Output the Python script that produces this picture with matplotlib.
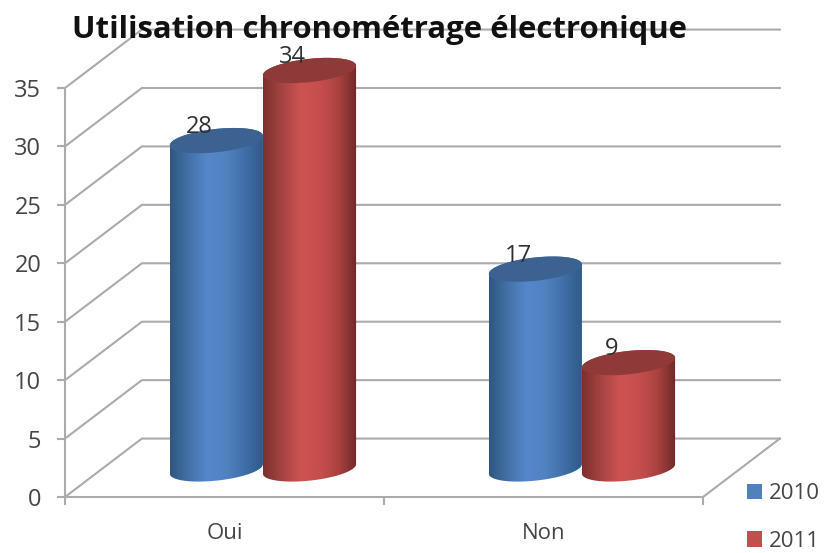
import numpy as np
import matplotlib
matplotlib.use("Agg")
import matplotlib.pyplot as plt
from matplotlib.colors import LinearSegmentedColormap
from matplotlib.patches import Patch, Polygon

plt.rcParams['font.family'] = ['Open Sans', 'DejaVu Sans']

# data
categories = ["Oui", "Non"]
years = ["2010", "2011"]
values_2010 = [28, 17]
values_2011 = [34, 9]
y_ticks = [0, 5, 10, 15, 20, 25, 30, 35]

# style
GRID = "#ababab"
TEXT = "#454545"
BAR_COLORS = ["#4f81bd", "#c0504d"]
TOP_COLORS = ["#3b6291", "#8f3a38"]
SIDE_COLORS = [
    ["#2f5780", "#4371a8", "#5587cb", "#5182c2", "#3f6fa6", "#2f5a88"],
    ["#7d302e", "#a54442", "#cc5351", "#c64f4d", "#ab4341", "#6f2928"],
]

# fake 3d depth of the chart box, in axis units
DEPTH_X = 0.241
DEPTH_Y = 5
BAR_OFFSET = 0.146
RADIUS_X = 0.146
RADIUS_Y = 1.0
SHEAR = 2.8


def ellipse_points(cx, cy, t):
    x = cx + RADIUS_X * np.cos(t)
    y = cy + RADIUS_Y * np.sin(t) + SHEAR * RADIUS_X * np.cos(t)
    return np.column_stack([x, y])


def draw_cylinder(ax, fig, cx, value, series, zorder):
    top = value + DEPTH_Y / 2
    bottom = DEPTH_Y / 2 - 0.1

    # side: upper half of the top rim is covered by the cap anyway
    upper = ellipse_points(cx, top, np.linspace(0, np.pi, 60))
    lower = ellipse_points(cx, bottom, np.linspace(np.pi, 2 * np.pi, 60))
    outline = Polygon(np.vstack([upper, lower]), closed=True, transform=ax.transData,
                      facecolor="none", edgecolor="none", clip_on=False)
    ax.add_patch(outline)

    cmap = LinearSegmentedColormap.from_list("side", SIDE_COLORS[series])
    gradient = np.linspace(0, 1, 200).reshape(1, -1)
    img = ax.imshow(gradient, cmap=cmap, aspect="auto", interpolation="bilinear",
                    extent=(cx - RADIUS_X, cx + RADIUS_X, bottom - 2, top + 2), zorder=zorder)
    # the tallest bar pokes out above the axes box
    img.set_clip_box(fig.bbox)
    img.set_clip_path(outline)

    cap = ellipse_points(cx, top, np.linspace(0, 2 * np.pi, 120))
    ax.add_patch(Polygon(cap, closed=True, facecolor=TOP_COLORS[series], edgecolor="none",
                         zorder=zorder + 0.1, clip_on=False))

    ax.annotate(str(value), (cx, top), xytext=(-12, 9.5), textcoords="offset points",
                ha="center", va="center", fontsize=17, color="#303030", zorder=10,
                annotation_clip=False)


def main():
    fig = plt.figure(figsize=(8.25, 5.53), dpi=100)
    ax = fig.add_axes([65 / 825, 1 - 497 / 553, 638 / 825, 409 / 553])
    ax.patch.set_visible(False)

    # walls: depth lines and back gridlines
    n_cat = len(categories)
    for tick in y_ticks:
        ax.plot([0, DEPTH_X, n_cat + DEPTH_X], [tick, tick + DEPTH_Y, tick + DEPTH_Y],
                color=GRID, lw=1.5, clip_on=False, zorder=1)
    ax.plot([n_cat, n_cat + DEPTH_X], [0, DEPTH_Y], color=GRID, lw=1.5, clip_on=False, zorder=1)

    series = [values_2010, values_2011]
    for c in range(n_cat):
        for s, values in enumerate(series):
            cx = c + 0.5 + (s - 0.5) * 2 * BAR_OFFSET + DEPTH_X / 2
            draw_cylinder(ax, fig, cx, values[c], s, zorder=3 + s)

    ax.set_xlim(0, n_cat)
    ax.set_ylim(0, 35)
    ax.set_yticks(y_ticks)
    ax.set_xticks(range(n_cat + 1))
    ax.set_xticklabels([])
    ax.set_xticks([c + 0.5 for c in range(n_cat)], minor=True)
    ax.set_xticklabels(categories, minor=True)
    ax.tick_params(axis="both", which="major", color=GRID, width=1.5, length=6,
                   labelsize=17, labelcolor=TEXT)
    ax.tick_params(axis="x", which="minor", length=0, pad=18.5, labelsize=16, labelcolor=TEXT)
    ax.tick_params(axis="y", pad=11)

    for side in ["top", "right"]:
        ax.spines[side].set_visible(False)
    for side in ["left", "bottom"]:
        ax.spines[side].set_color(GRID)
        ax.spines[side].set_linewidth(1.5)

    fig.text(379 / 825, 1 - 38 / 553, "Utilisation chronométrage électronique",
             ha="center", va="baseline", fontsize=22.4, fontweight="bold", color="#111111")

    handles = [Patch(facecolor=c, edgecolor="none") for c in BAR_COLORS]
    fig.legend(handles, years, loc="upper left", bbox_to_anchor=(747 / 825, 1 - 483 / 553),
               frameon=False, fontsize=16, labelcolor=TEXT, handlelength=0.68, handleheight=0.68,
               handletextpad=0.3, labelspacing=1.2, borderpad=0, borderaxespad=0)

    fig.savefig("out.png", dpi=100)


if __name__ == "__main__":
    main()
